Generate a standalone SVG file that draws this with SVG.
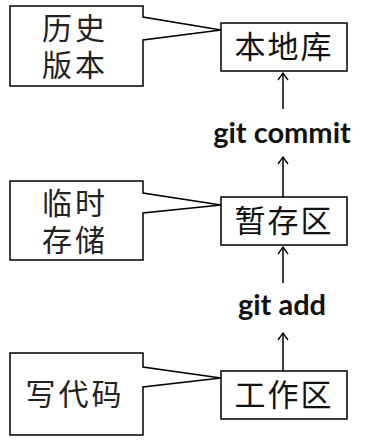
<svg xmlns="http://www.w3.org/2000/svg" width="367" height="442" viewBox="0 0 367 442">
<defs>
<marker id="arr" viewBox="0 0 12 12" refX="11" refY="6" markerWidth="12" markerHeight="12" markerUnits="userSpaceOnUse" orient="auto">
<path d="M4,1 L11,6 L4,11" fill="none" stroke="#000" stroke-width="1.3"/>
</marker>
</defs>
<style>
.box{fill:#fff;stroke:#000;stroke-width:1.5}
.call{fill:#fff;stroke:#000;stroke-width:1.5;stroke-linejoin:miter}
.cn{font-family:"Noto Sans CJK SC","Noto Sans",sans-serif;font-size:30px;fill:#222;text-anchor:middle}
.bx{font-family:"Noto Sans CJK SC","Noto Sans",sans-serif;font-size:31px;fill:#111;text-anchor:middle}
.cmd{font-family:Lato,"Open Sans",sans-serif;font-weight:bold;font-size:29px;fill:#111;text-anchor:middle}
.con{stroke:#000;stroke-width:1.5;fill:none}
</style>
<rect width="367" height="442" fill="#fff"/>
<g id="callout-history">
<path class="call" d="M10,6 H143 V17 L221,30 L143,40 V86 H10 Z"/>
<text class="cn" x="75" y="39" letter-spacing="3">历史</text>
<text class="cn" x="75" y="76" letter-spacing="3">版本</text>
</g>
<g id="node-local-repo">
<rect class="box" x="221" y="23" width="126" height="48"/>
<text class="bx" x="284" y="58" letter-spacing="2">本地库</text>
</g>
<g id="callout-temp">
<path class="call" d="M10,181 H143 V193 L221,205 L143,213 V260 H10 Z"/>
<text class="cn" x="75" y="214" letter-spacing="3">临时</text>
<text class="cn" x="75" y="251" letter-spacing="3">存储</text>
</g>
<g id="node-staging">
<rect class="box" x="221" y="197" width="126" height="48"/>
<text class="bx" x="284" y="232" letter-spacing="2">暂存区</text>
</g>
<g id="callout-code">
<path class="call" d="M10,353 H143 V367 L221,378 L143,387 V435 H10 Z"/>
<text class="cn" x="75" y="405" letter-spacing="3">写代码</text>
</g>
<g id="node-work">
<rect class="box" x="221" y="371" width="126" height="48"/>
<text class="bx" x="284" y="406" letter-spacing="2">工作区</text>
</g>
<g id="connectors">
<line class="con" x1="283" y1="109" x2="283" y2="73" marker-end="url(#arr)"/>
<line class="con" x1="283" y1="197" x2="283" y2="157" marker-end="url(#arr)"/>
<line class="con" x1="283" y1="283" x2="283" y2="247" marker-end="url(#arr)"/>
<line class="con" x1="283" y1="371" x2="283" y2="333" marker-end="url(#arr)"/>
<text class="cmd" x="282" y="143">git commit</text>
<text class="cmd" x="282" y="315">git add</text>
</g>
</svg>
